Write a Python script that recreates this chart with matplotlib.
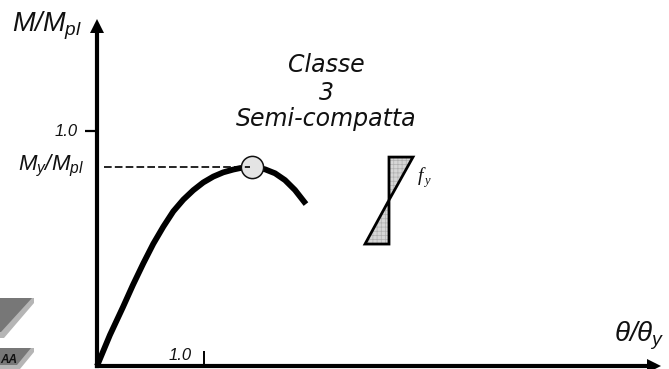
import matplotlib
matplotlib.use("Agg")
import matplotlib.pyplot as plt
from matplotlib.patches import Polygon
from matplotlib.transforms import Affine2D

W, H = 669, 369
SANS = "Liberation Sans"
plt.rcParams['mathtext.fontset'] = 'custom'
plt.rcParams['mathtext.rm'] = 'Liberation Sans:italic'
plt.rcParams['mathtext.it'] = 'Liberation Sans:italic'
plt.rcParams['mathtext.bf'] = 'Liberation Sans:italic:bold'
plt.rcParams['hatch.linewidth'] = 0.5

# Data (theta/theta_y, M/M_pl)
curve_theta = [0, .121, .243, .336, .433, .526, .620, .713, .807, .900, .993,
               1.087, 1.180, 1.274, 1.336, 1.451, 1.570, 1.664, 1.757, 1.850, 1.953]
curve_moment = [0, .132, .251, .345, .437, .520, .593, .658, .708, .748, .781,
                .806, .824, .836, .842, .848, .837, .820, .791, .749, .689]
yield_theta = 1.451
yield_moment = .848
dash_start = .065
dash_end = 1.43
stress_top = [(2.729, .889), (2.953, .889), (2.729, .706)]
stress_bottom = [(2.729, .706), (2.505, .519), (2.729, .519)]
y_ticks = [1.0]
x_ticks = [1.0]

fig = plt.figure(figsize=(W / 100, H / 100), dpi=100)
ax = fig.add_axes([97 / W, (H - 366) / H, (654 - 97) / W, (366 - 26) / H])
ax.set_xlim(0, (654 - 97) / 107)
ax.set_ylim(0, (366 - 26) / 235)
ax.patch.set_alpha(0)
for s in ("top", "right"):
    ax.spines[s].set_visible(False)
for s in ("left", "bottom"):
    ax.spines[s].set_linewidth(3)
ax.set_xticks(x_ticks)
ax.set_yticks(y_ticks)
ax.set_xticklabels([])
ax.set_yticklabels([])
ax.tick_params(axis="x", direction="in", length=11, width=1.4)
ax.tick_params(axis="y", direction="out", length=8.5, width=1.6)

# arrow heads
ax.plot(1, 0, ">k", ms=9.5, transform=ax.transAxes, clip_on=False, mew=0)
ax.plot(0, 1, "^k", ms=9.5, transform=ax.transAxes, clip_on=False, mew=0)

# curve
ax.plot(curve_theta, curve_moment, color="k", lw=4.2, solid_joinstyle="round",
        solid_capstyle="butt", clip_on=False, zorder=3)
ax.plot([yield_theta], [yield_moment], "o", ms=16, mfc="#e4e4e4", mec="#111111",
        mew=1.1, zorder=4)
ax.plot([dash_start, dash_end], [yield_moment, yield_moment], color="k", lw=1.2,
        dashes=(4.6, 1.9), zorder=5)

# stress block: hatched fill (the hatch takes the edge colour), then the outline
for tri in (stress_top, stress_bottom):
    ax.add_patch(Polygon(tri, closed=True, fc="#d6d6d6", ec="#b0b0b0", lw=0,
                         hatch="++++", zorder=3))
    ax.add_patch(Polygon(tri, closed=True, fc="none", ec="k", lw=2,
                         joinstyle="miter", zorder=3.1))


def label(x, y, s, size, ha="left", va="baseline", **kw):
    kw.setdefault("family", SANS)
    kw.setdefault("style", "italic")
    fig.text(x / W, 1 - y / H, s, fontsize=size, ha=ha, va=va, color="#111111", **kw)


label(12, 31, r"$M/M_{pl}$", 19.5)
label(78, 136, "1.0", 12, ha="right")
label(84, 170, r"$M_y/M_{pl}$", 16, ha="right")
label(192, 360, "1.0", 12, ha="right")
label(665, 342, r"$\theta/\theta_y$", 20, ha="right")
label(326, 72, "Classe", 17, ha="center", family="DejaVu Sans")
label(326, 100, "3", 17, ha="center", family="DejaVu Sans")
label(326, 126, "Semi-compatta", 17, ha="center", family="DejaVu Sans")
label(418, 181, "f", 14, family="Liberation Serif")
label(424, 184, "y", 9, family="Liberation Serif")

# logo fragment in the lower-left corner
px = Affine2D().scale(1, -1).translate(0, H)
for pts, col in (
    ([(3, 298), (34, 298), (34, 303), (4, 338), (0, 338), (0, 298)], "#b5b5b5"),
    ([(0, 298), (32, 298), (1, 332), (0, 332)], "#777777"),
    ([(0, 348), (34, 348), (34, 352), (20, 369), (0, 369)], "#b5b5b5"),
    ([(0, 348), (31, 348), (17, 365), (0, 365)], "#777777"),
):
    fig.add_artist(Polygon(pts, closed=True, fc=col, ec="none", transform=px))
label(0, 363, "AA", 8.5, weight="bold")

fig.savefig("out.png", dpi=100)
